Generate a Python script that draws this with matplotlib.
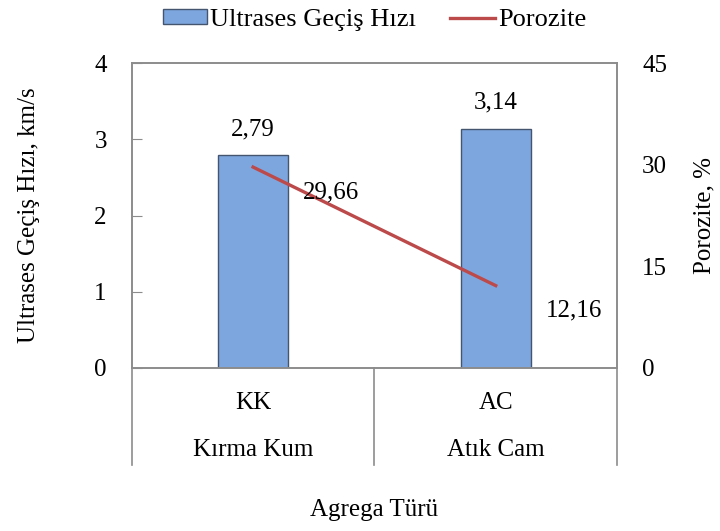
import matplotlib.pyplot as plt
import matplotlib.transforms as mtransforms
from matplotlib.patches import Patch
from matplotlib.lines import Line2D

plt.rcParams['font.family'] = ['Liberation Serif', 'DejaVu Serif']

codes = ['KK', 'AC']
names = ['Kırma Kum', 'Atık Cam']
hiz = [2.79, 3.14]        # ultrases geçiş hızı, km/s
porozite = [29.66, 12.16]  # %
hiz_txt = ['2,79', '3,14']
por_txt = ['29,66', '12,16']

bar_color = '#7EA6DE'
bar_edge = '#44566F'
line_color = '#BC4A4B'
frame = '#8C8C8C'
fs = 18

fig = plt.figure(figsize=(7.2, 5.31), dpi=100)
ax = fig.add_axes([0.183, 0.307, 0.674, 0.574])
x = list(range(len(codes)))

ax.bar(x, hiz, width=0.29, color=bar_color, edgecolor=bar_edge, linewidth=1.0, zorder=2)
ax.set_xlim(-0.5, 1.5)
ax.set_ylim(0, 4)
ax.set_yticks([0, 1, 2, 3, 4])
ax.set_xticks([])
ax.tick_params(axis='y', direction='in', length=7, color=frame, labelsize=fs, pad=18)
for s in ax.spines.values():
    s.set_color(frame)
    s.set_linewidth(1.2)
ax.set_ylabel('Ultrases Geçiş Hızı, km/s', fontsize=fs)
ax.yaxis.set_label_coords(-0.19, 0.5)

for xi, v, t in zip(x, hiz, hiz_txt):
    ax.annotate(t, (xi, v), xytext=(0, 26), textcoords='offset pixels',
                ha='center', va='center', fontsize=fs)

ax2 = ax.twinx()
ax2.plot(x, porozite, color=line_color, linewidth=2.4, zorder=3)
ax2.set_ylim(0, 45)
ax2.set_yticks([0, 15, 30, 45])
ax2.tick_params(axis='y', length=0, labelsize=fs, pad=18)
for s in ax2.spines.values():
    s.set_color(frame)
    s.set_linewidth(1.2)
ax2.set_ylabel('Porozite, %', fontsize=fs)
ax2.yaxis.set_label_coords(1.158, 0.5)

# etiketler noktanın sağ altında
for xi, v, t in zip(x, porozite, por_txt):
    ax2.annotate(t, (xi, v), xytext=(78, -25), textcoords='offset pixels',
                 ha='center', va='center', fontsize=fs)

# kategori ekseni: ayırıcı çizgiler ve iki satırlı etiketler
trans = mtransforms.blended_transform_factory(ax.transData, ax.transAxes)
for xb in [-0.5, 0.5, 1.5]:
    ax.plot([xb, xb], [0, -0.318], transform=trans, color=frame, linewidth=1.2, clip_on=False)
for xi, c, n in zip(x, codes, names):
    ax.text(xi, -0.115, c, transform=trans, ha='center', va='center', fontsize=fs)
    ax.text(xi, -0.27, n, transform=trans, ha='center', va='center', fontsize=fs)
ax.text(0.5, -0.465, 'Agrega Türü', transform=ax.transAxes, ha='center', va='center', fontsize=fs)

handles = [Patch(facecolor=bar_color, edgecolor=bar_edge, linewidth=1.0),
           Line2D([0], [0], color=line_color, linewidth=2.4)]
fig.legend(handles, ['Ultrases Geçiş Hızı', 'Porozite'], loc='center', ncol=2,
           bbox_to_anchor=(0.52, 0.962), frameon=False, fontsize=19,
           handlelength=1.7, handleheight=0.5, handletextpad=0.1, columnspacing=1.3)

fig.savefig('out.png', dpi=100)
